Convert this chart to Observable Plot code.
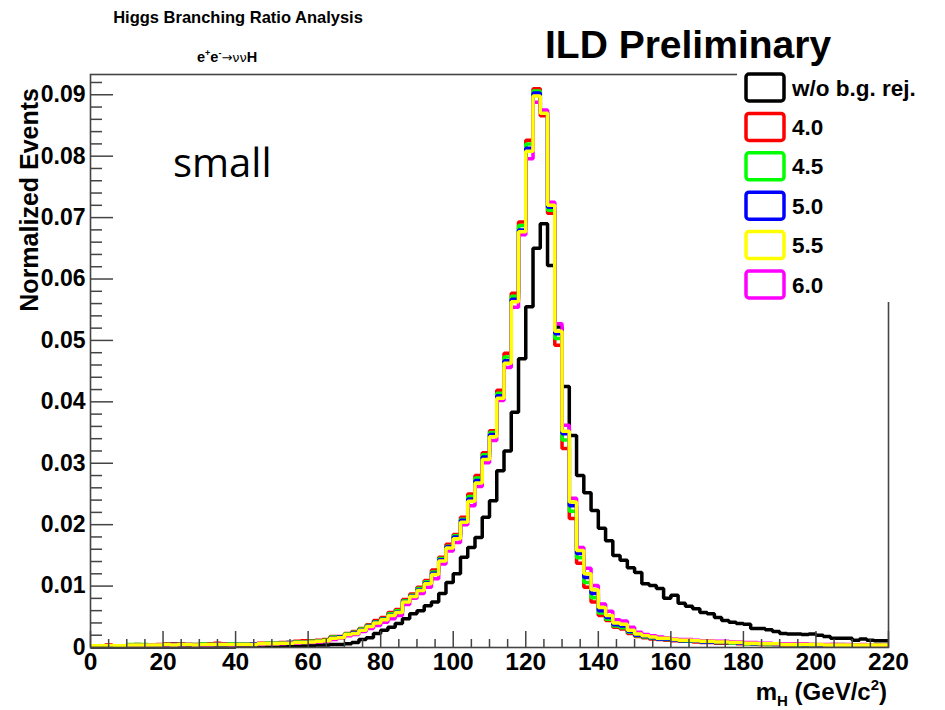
<!DOCTYPE html>
<html>
<head>
<meta charset="utf-8">
<script src="https://cdn.jsdelivr.net/npm/d3@7"></script>
<script src="https://cdn.jsdelivr.net/npm/@observablehq/plot@0.6"></script>
<style>
  html, body { margin: 0; padding: 0; background: white; }
  #chart { width: 945px; height: 710px; }
</style>
</head>
<body>
<div id="chart"></div>
<script>
// ---------- DATA (normalized events per 2 GeV bin, bins 0..220) ----------
const binLowEdges = d3.range(0, 220, 2); // 110 bins of 2 GeV
const xMax = 220;

const noRejection = [ // black: w/o b.g. rej.
  .0001,.0001,.0001,.0001,.0001,.0001,.0001,.0001,.0001,.0001,
  .0001,.0001,.0001,.0001,.0001,.0001,.0001,.0001,.0001,.0001,
  .0002,.0002,.0002,.0002,.0002,.0002,.0002,.0002,.0003,.0003,
  .0003,.0004,.0004,.0005,.0005,.0006,.0008,.0013,.0016,.0023,
  .0028,.0033,.0039,.0047,.0055,.0060,.0068,.0074,.0088,.0106,
  .0120,.0147,.0163,.0179,.0212,.0239,.0288,.0320,.0383,.0470,
  .0555,.0650,.0690,.0622,.0522,.0425,.0345,.0280,.0252,.0223,
  .0194,.0174,.0150,.0142,.0130,.0122,.0104,.0101,.0096,.0080,
  .0085,.0072,.0067,.0063,.0057,.0055,.0049,.0044,.0041,.0039,
  .0038,.0031,.0031,.0029,.0026,.0023,.0022,.0022,.0021,.0022,
  .0020,.0018,.0015,.0015,.0015,.0012,.0014,.0012,.0011,.0011
];
const cut40 = [ // red
  .0003,.0003,.0004,.0003,.0003,.0004,.0005,.0004,.0004,.0005,
  .0006,.0006,.0006,.0005,.0005,.0005,.0006,.0007,.0006,.0005,
  .0006,.0006,.0006,.0007,.0007,.0007,.0008,.0008,.0010,.0011,
  .0011,.0012,.0013,.0018,.0018,.0023,.0026,.0031,.0037,.0044,
  .0049,.0057,.0062,.0078,.0087,.0098,.0109,.0126,.0147,.0168,
  .0184,.0212,.0250,.0280,.0317,.0353,.0419,.0479,.0577,.0693,
  .0826,.0910,.0866,.0707,.0492,.0324,.0210,.0137,.0098,.0074,
  .0052,.0044,.0033,.0030,.0023,.0018,.0016,.0014,.0013,.0012,
  .0011,.0010,.0010,.0009,.0008,.0008,.0007,.0007,.0007,.0006,
  .0006,.0006,.0005,.0005,.0005,.0004,.0004,.0004,.0005,.0004,
  .0004,.0004,.0005,.0004,.0003,.0003,.0003,.0003,.0003,.0003
];
const cut45 = [ // green
  .0003,.0003,.0003,.0003,.0003,.0005,.0005,.0005,.0004,.0004,
  .0005,.0005,.0005,.0005,.0005,.0006,.0005,.0005,.0005,.0006,
  .0006,.0006,.0005,.0006,.0007,.0007,.0007,.0008,.0009,.0009,
  .0010,.0011,.0012,.0017,.0017,.0022,.0025,.0030,.0036,.0042,
  .0047,.0055,.0060,.0076,.0085,.0096,.0107,.0123,.0145,.0165,
  .0182,.0209,.0246,.0276,.0314,.0350,.0414,.0473,.0572,.0687,
  .0820,.0906,.0873,.0712,.0503,.0338,.0222,.0146,.0106,.0081,
  .0056,.0046,.0035,.0032,.0025,.0019,.0017,.0015,.0014,.0013,
  .0012,.0011,.0010,.0010,.0009,.0009,.0008,.0008,.0007,.0007,
  .0006,.0006,.0006,.0005,.0005,.0005,.0005,.0004,.0004,.0004,
  .0004,.0004,.0004,.0005,.0004,.0004,.0003,.0003,.0003,.0003
];
const cut50 = [ // blue
  .0003,.0003,.0003,.0003,.0003,.0004,.0004,.0004,.0004,.0004,
  .0005,.0005,.0005,.0005,.0004,.0005,.0005,.0005,.0005,.0005,
  .0005,.0005,.0006,.0006,.0006,.0006,.0007,.0008,.0008,.0008,
  .0009,.0010,.0011,.0016,.0017,.0021,.0024,.0029,.0035,.0041,
  .0046,.0053,.0058,.0075,.0084,.0094,.0105,.0121,.0143,.0164,
  .0180,.0207,.0242,.0272,.0310,.0347,.0410,.0467,.0567,.0680,
  .0813,.0903,.0871,.0717,.0511,.0348,.0231,.0153,.0114,.0088,
  .0060,.0049,.0037,.0035,.0026,.0020,.0018,.0016,.0014,.0014,
  .0012,.0011,.0011,.0010,.0009,.0009,.0008,.0008,.0008,.0007,
  .0007,.0006,.0006,.0006,.0005,.0005,.0005,.0005,.0004,.0005,
  .0004,.0004,.0004,.0004,.0004,.0004,.0004,.0003,.0004,.0003
];
const cut55 = [ // yellow
  .0003,.0003,.0003,.0003,.0003,.0004,.0004,.0004,.0004,.0004,
  .0005,.0004,.0005,.0005,.0004,.0005,.0005,.0005,.0005,.0005,
  .0005,.0005,.0005,.0006,.0006,.0006,.0007,.0007,.0008,.0008,
  .0009,.0010,.0011,.0015,.0016,.0021,.0023,.0028,.0034,.0040,
  .0045,.0052,.0057,.0074,.0083,.0093,.0104,.0119,.0141,.0162,
  .0177,.0204,.0238,.0268,.0306,.0343,.0406,.0463,.0563,.0677,
  .0808,.0898,.0870,.0720,.0515,.0352,.0237,.0158,.0120,.0094,
  .0065,.0052,.0040,.0038,.0028,.0022,.0019,.0017,.0015,.0015,
  .0013,.0012,.0012,.0011,.0010,.0010,.0009,.0009,.0008,.0008,
  .0007,.0007,.0006,.0006,.0006,.0005,.0005,.0005,.0005,.0005,
  .0005,.0004,.0004,.0004,.0004,.0004,.0004,.0004,.0004,.0004
];
const cut60 = [ // magenta
  .0002,.0003,.0002,.0003,.0003,.0003,.0003,.0003,.0004,.0004,
  .0004,.0004,.0004,.0005,.0004,.0004,.0004,.0005,.0005,.0004,
  .0005,.0005,.0005,.0005,.0006,.0006,.0006,.0007,.0007,.0008,
  .0008,.0009,.0010,.0013,.0015,.0019,.0021,.0026,.0031,.0036,
  .0041,.0047,.0052,.0070,.0080,.0088,.0098,.0112,.0136,.0157,
  .0171,.0200,.0231,.0262,.0301,.0337,.0402,.0456,.0554,.0672,
  .0796,.0888,.0875,.0725,.0527,.0362,.0243,.0163,.0129,.0101,
  .0071,.0059,.0045,.0043,.0033,.0025,.0021,.0019,.0017,.0016,
  .0014,.0013,.0013,.0012,.0011,.0011,.0010,.0010,.0009,.0009,
  .0008,.0008,.0007,.0007,.0006,.0006,.0006,.0006,.0006,.0005,
  .0005,.0005,.0005,.0005,.0005,.0004,.0005,.0004,.0004,.0004
];

const seriesNames  = ["w/o b.g. rej.", "4.0", "4.5", "5.0", "6.0", "5.5"]; // draw order
const seriesValues = [noRejection, cut40, cut45, cut50, cut60, cut55];
const seriesColors = ["#000000", "#ff0000", "#00ff00", "#0000ff", "#ff00ff", "#ffff00"];

const legendNames  = ["w/o b.g. rej.", "4.0", "4.5", "5.0", "5.5", "6.0"];
const legendColors = ["#000000", "#ff0000", "#00ff00", "#0000ff", "#ffff00", "#ff00ff"];

const xMajorTicks = d3.range(0, 221, 20);
const xMinorTicks = d3.range(0, 221, 5).filter(v => v % 20 !== 0);
const yMajorTicks = [0, 0.01, 0.02, 0.03, 0.04, 0.05, 0.06, 0.07, 0.08, 0.09];
const yMinorTicks = d3.range(1, 47).map(i => i * 0.002).filter(v => Math.abs(v * 100 - Math.round(v * 100)) > 1e-6);
const yMax = 0.0933;

// ---------- build step tables ----------
function stepTable(vals) {
  const pts = binLowEdges.map((e, i) => ({x: e, y: vals[i]}));
  pts.push({x: xMax, y: vals[vals.length - 1]});
  return pts;
}

const W = 945, H = 710;
const mL = 90, mR = 57, mT = 74, mB = 63;
const frameW = W - mL - mR, frameH = H - mT - mB;
const FONT = "Liberation Sans, Arial, Helvetica, sans-serif";

const lineMarks = seriesValues.map((vals, k) =>
  Plot.line(stepTable(vals), {x: "x", y: "y", curve: "step-after",
    stroke: seriesColors[k], strokeWidth: 3.5, strokeLinejoin: "miter", strokeLinecap: "butt"})
);

const plot = Plot.plot({
  width: W, height: H,
  marginLeft: mL, marginRight: mR, marginTop: mT, marginBottom: mB,
  style: {fontFamily: FONT, background: "white", overflow: "visible"},
  x: {domain: [0, xMax]},
  y: {domain: [0, yMax]},
  marks: [
    ...lineMarks,
    Plot.tickX(xMajorTicks, {x: d => d, insetTop: frameH - 16, stroke: "#444", strokeWidth: 1.5}),
    Plot.tickX(xMinorTicks, {x: d => d, insetTop: frameH - 8, stroke: "#444", strokeWidth: 1.5}),
    Plot.tickY(yMajorTicks, {y: d => d, insetRight: frameW - 23, stroke: "#444", strokeWidth: 1.5}),
    Plot.tickY(yMinorTicks, {y: d => d, insetRight: frameW - 12, stroke: "#444", strokeWidth: 1.5}),
    Plot.axisX(xMajorTicks, {tickSize: 0, tickPadding: 5, fontSize: 24.5, fontWeight: "bold", fill: "#000", label: null}),
    Plot.axisY(yMajorTicks, {tickSize: 0, tickPadding: 5, fontSize: 23, fontWeight: "bold", fill: "#000", label: null,
      tickFormat: d => d === 0 ? "0" : d.toFixed(2)}),
    Plot.frame({stroke: "#444", strokeWidth: 1.6})
  ]
});

document.getElementById("chart").appendChild(plot);

// ---------- annotations & legend ----------
const svg = d3.select(plot);
const ns = svg.append("g").attr("font-family", FONT).attr("text-anchor", "start");

// legend box (covers frame corner)
ns.append("rect").attr("x", 737).attr("y", 70).attr("width", 208).attr("height", 232).attr("fill", "white");
const legendY0 = 87.5, legendDy = 39.4;
legendNames.forEach((name, i) => {
  const cy = legendY0 + i * legendDy;
  ns.append("rect").attr("x", 746).attr("y", cy - 13.5).attr("width", 38).attr("height", 27)
    .attr("rx", 3).attr("fill", "white").attr("stroke", legendColors[i]).attr("stroke-width", 3.5);
  ns.append("text").attr("x", 792).attr("y", cy + 8).attr("text-anchor", "start")
    .attr("font-size", 22.5).attr("font-weight", "bold").attr("fill", "#000").text(name);
});

// titles
ns.append("text").attr("x", 238).attr("y", 23).attr("text-anchor", "middle")
  .attr("font-size", 16.5).attr("font-weight", "bold").text("Higgs Branching Ratio Analysis");

const proc = ns.append("text").attr("x", 197).attr("y", 62).attr("text-anchor", "start")
  .attr("font-size", 14.5).attr("font-weight", "bold");
proc.append("tspan").text("e");
proc.append("tspan").attr("font-size", 9).attr("dy", -6).text("+");
proc.append("tspan").attr("dy", 6).text("e");
proc.append("tspan").attr("font-size", 9).attr("dy", -6).text("-");
proc.append("tspan").attr("dy", 6).attr("font-weight", "normal").attr("font-family", "DejaVu Sans")
  .attr("font-size", 13).text("\u2192\u03bd\u03bd");
proc.append("tspan").text("H");

ns.append("text").attr("x", 545).attr("y", 58).attr("text-anchor", "start")
  .attr("font-size", 39).attr("font-weight", "bold").text("ILD Preliminary");

ns.append("text").attr("x", 173).attr("y", 177).attr("text-anchor", "start").attr("font-size", 40)
  .attr("font-family", "Open Sans, Lato, sans-serif").text("small");

// axis titles
ns.append("text").attr("transform", "translate(38,88) rotate(-90)").attr("text-anchor", "end")
  .attr("font-size", 25).attr("font-weight", "bold").text("Normalized Events");

const xt = ns.append("text").attr("x", 887).attr("y", 700).attr("text-anchor", "end")
  .attr("font-size", 24).attr("font-weight", "bold");
xt.append("tspan").text("m");
xt.append("tspan").attr("font-size", 15).attr("dy", 6).text("H");
xt.append("tspan").attr("dy", -6).text(" (GeV/c");
xt.append("tspan").attr("font-size", 15).attr("dy", -10).text("2");
xt.append("tspan").attr("dy", 10).text(")");
</script>
</body>
</html>
